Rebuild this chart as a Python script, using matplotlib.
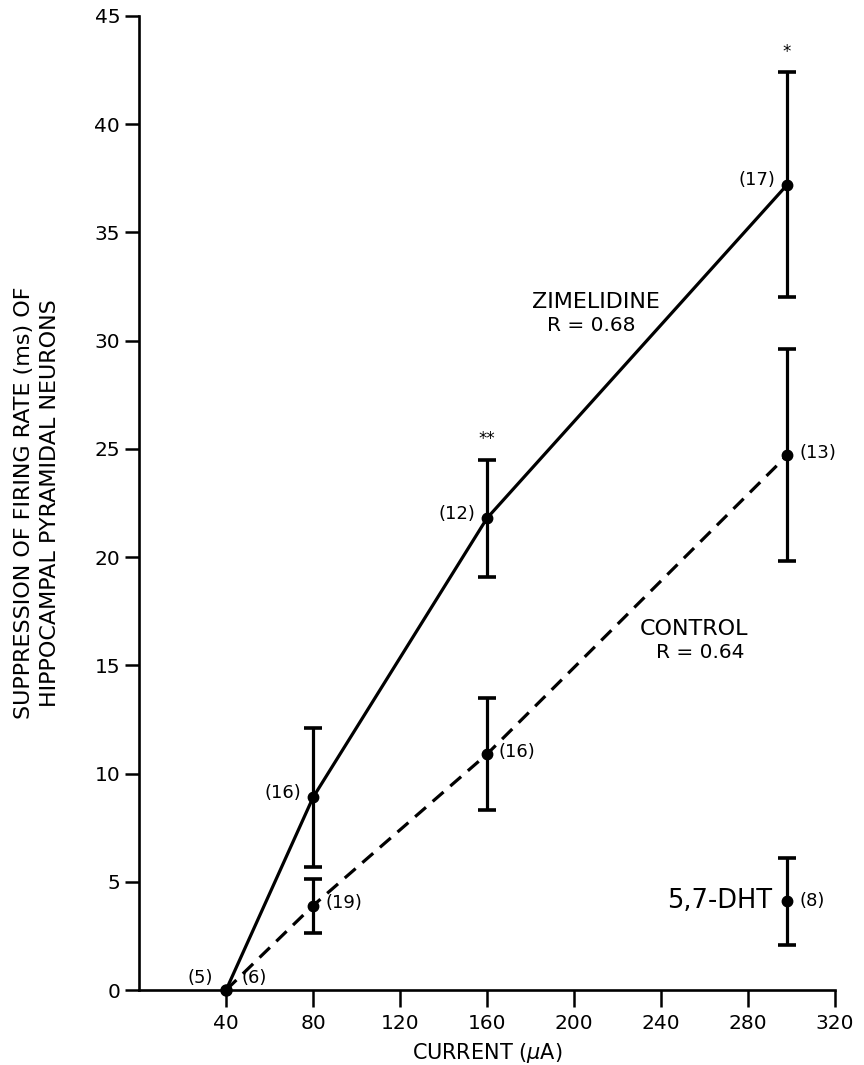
import matplotlib
matplotlib.use("Agg")
import matplotlib.pyplot as plt

plt.rcParams['font.family'] = ['DejaVu Sans']

# data
current = [40, 80, 160, 298]
zim = [0, 8.9, 21.8, 37.2]
zim_err = [0, 3.2, 2.7, 5.2]
zim_n = ['(5)', '(16)', '(12)', '(17)']
ctl = [0, 3.9, 10.9, 24.7]
ctl_err = [0, 1.25, 2.6, 4.9]
ctl_n = ['(6)', '(19)', '(16)', '(13)']
dht_x = [298]
dht = [4.1]
dht_err = [2.0]
xticks = [40, 80, 120, 160, 200, 240, 280, 320]
yticks = [0, 5, 10, 15, 20, 25, 30, 35, 40, 45]

fig = plt.figure(figsize=(8.64, 10.65), dpi=100)
ax = fig.add_axes([0.161, 0.0704, 0.8054, 0.9146])

lw = 2.3
ax.plot(current, zim, color='black', lw=lw)
l, = ax.plot(current, ctl, color='black', lw=lw)
l.set_dashes((4.5, 2.8))

ebkw = dict(fmt='o', color='black', ms=7.5, elinewidth=2.3, capsize=6.5, capthick=2.6)
ax.errorbar(current[1:], zim[1:], yerr=zim_err[1:], **ebkw)
ax.errorbar(current[1:], ctl[1:], yerr=ctl_err[1:], **ebkw)
ax.errorbar(dht_x, dht, yerr=dht_err, **ebkw)
ax.plot([40], [0], 'o', color='black', ms=8, clip_on=False, zorder=5)

fs = 13
# sample sizes
ax.text(current[0] - 6, zim[0] + 0.55, zim_n[0], ha='right', va='center', fontsize=fs)
ax.text(current[0] + 7, ctl[0] + 0.55, ctl_n[0], ha='left', va='center', fontsize=fs)
for i in range(1, 4):
    ax.text(current[i] - 5.5, zim[i] + 0.2, zim_n[i], ha='right', va='center', fontsize=fs)
    ax.text(current[i] + 5.5, ctl[i] + 0.1, ctl_n[i], ha='left', va='center', fontsize=fs)
ax.text(dht_x[0] + 5.5, dht[0], '(8)', ha='left', va='center', fontsize=fs)
ax.text(dht_x[0] - 7, dht[0], '5,7-DHT', ha='right', va='center', fontsize=18.5)

# significance
ax.text(current[2], zim[2] + zim_err[2] + 0.95, '**', ha='center', va='center', fontsize=12)
ax.text(current[3], zim[3] + zim_err[3] + 0.95, '*', ha='center', va='center', fontsize=12)

ax.text(210, 31.8, 'ZIMELIDINE', ha='center', va='center', fontsize=16)
ax.text(208, 30.7, 'R = 0.68', ha='center', va='center', fontsize=14.5)
ax.text(255, 16.7, 'CONTROL', ha='center', va='center', fontsize=16)
ax.text(258, 15.6, 'R = 0.64', ha='center', va='center', fontsize=14.5)

ax.set_xlim(0, 320)
ax.set_ylim(0, 45)
ax.set_xticks(xticks)
ax.set_yticks(yticks)
ax.tick_params(axis='both', labelsize=14.5, width=1.8, direction='out')
ax.tick_params(axis='y', length=10, pad=3.6)
ax.tick_params(axis='x', length=12, pad=5)
for s in ['top', 'right']:
    ax.spines[s].set_visible(False)
for s in ['left', 'bottom']:
    ax.spines[s].set_linewidth(1.9)

fig.text(487 / 864, 1 - 1053 / 1065, r'CURRENT ($\mu$A)', ha='center', va='center', fontsize=15)
fig.text(37 / 864, 1 - 503 / 1065, 'SUPPRESSION OF FIRING RATE (ms) OF\nHIPPOCAMPAL PYRAMIDAL NEURONS',
         rotation=90, ha='center', va='center', fontsize=16, linespacing=1.35,
         multialignment='center')

fig.savefig('out.png', dpi=100)
